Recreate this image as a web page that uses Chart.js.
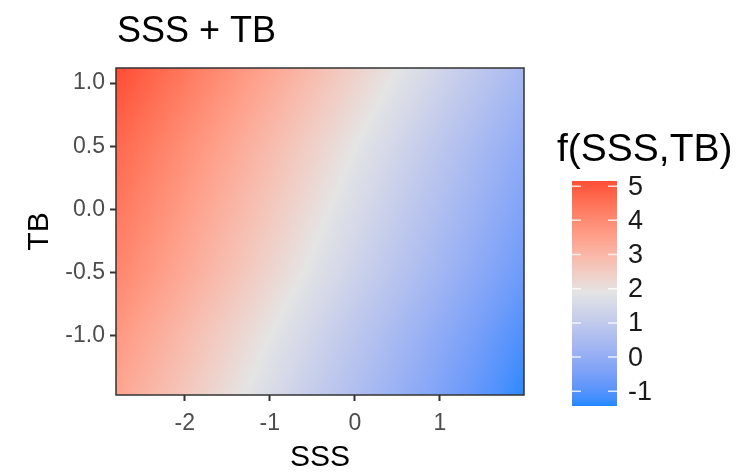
<!DOCTYPE html>
<html>
<head>
<meta charset="utf-8">
<script src="https://cdn.jsdelivr.net/npm/chart.js@4.4.1/dist/chart.umd.min.js"></script>
<style>
  html, body { margin: 0; padding: 0; background: #fff; }
  #wrap { width: 750px; height: 476px; }
</style>
</head>
<body>
<div id="wrap"><canvas id="c" width="750" height="476"></canvas></div>
<script>
// grid nodes (panel edges + tick positions)
const sssGrid = [-2.81, -2, -1, 0, 1, 1.99];
const tbGrid = [1.12, 0.5, 0, -0.5, -1, -1.47];
// f(SSS,TB), one row per TB value, one column per SSS value
const fRows = [
  [5.2, 4.4, 3.4, 2.4, 1.4, 0.4],
  [4.7, 3.9, 2.9, 1.9, 0.9, -0.1],
  [4.4, 3.6, 2.6, 1.6, 0.6, -0.4],
  [4.1, 3.3, 2.3, 1.3, 0.3, -0.7],
  [3.7, 2.9, 1.9, 0.9, -0.1, -1.1],
  [3.4, 2.6, 1.6, 0.6, -0.4, -1.4]
];
const sssTicks = [-2, -1, 0, 1];
const tbTicks = [-1, -0.5, 0, 0.5, 1];
const legendTicks = [5, 4, 3, 2, 1, 0, -1];
const fMin = -1.43, fMid = 1.9, fMax = 5.15;

const lowCol = [30, 136, 255], midCol = [228, 228, 228], highCol = [255, 72, 50];
const FONT = "'Liberation Sans', Arial, sans-serif";

// --- Lab interpolation, like scales::div_gradient_pal
function toLin(c) { c /= 255; return c <= 0.04045 ? c / 12.92 : Math.pow((c + 0.055) / 1.055, 2.4); }
function fromLin(c) { c = c <= 0.0031308 ? 12.92 * c : 1.055 * Math.pow(c, 1 / 2.4) - 0.055; return Math.max(0, Math.min(255, Math.round(c * 255))); }
function rgb2lab(rgb) {
  const r = toLin(rgb[0]), g = toLin(rgb[1]), b = toLin(rgb[2]);
  let x = (0.4124 * r + 0.3576 * g + 0.1805 * b) / 0.95047;
  let y = 0.2126 * r + 0.7152 * g + 0.0722 * b;
  let z = (0.0193 * r + 0.1192 * g + 0.9505 * b) / 1.08883;
  const f = t => t > 0.008856 ? Math.cbrt(t) : 7.787 * t + 16 / 116;
  x = f(x); y = f(y); z = f(z);
  return [116 * y - 16, 500 * (x - y), 200 * (y - z)];
}
function lab2rgb(lab) {
  const fy = (lab[0] + 16) / 116, fx = fy + lab[1] / 500, fz = fy - lab[2] / 200;
  const inv = t => t > 0.206893 ? t * t * t : (t - 16 / 116) / 7.787;
  const x = inv(fx) * 0.95047, y = inv(fy), z = inv(fz) * 1.08883;
  const r = 3.2406 * x - 1.5372 * y - 0.4986 * z;
  const g = -0.9689 * x + 1.8758 * y + 0.0415 * z;
  const b = 0.0557 * x - 0.2040 * y + 1.0570 * z;
  return [fromLin(r), fromLin(g), fromLin(b)];
}
const labLow = rgb2lab(lowCol), labMid = rgb2lab(midCol), labHigh = rgb2lab(highCol);
const half = Math.max(fMax - fMid, fMid - fMin);
function colorFor(v) {
  let t = (v - fMid) / half;
  t = Math.max(-1, Math.min(1, t));
  const a = labMid, b = t < 0 ? labLow : labHigh, k = Math.abs(t);
  return lab2rgb([a[0] + (b[0] - a[0]) * k, a[1] + (b[1] - a[1]) * k, a[2] + (b[2] - a[2]) * k]);
}

// bilinear lookup in the grid
function seg(arr, v) {
  const asc = arr[arr.length - 1] > arr[0];
  for (let i = 0; i < arr.length - 1; i++) {
    const hi = arr[i + 1];
    if ((asc && v <= hi) || (!asc && v >= hi) || i === arr.length - 2) {
      return [i, Math.max(0, Math.min(1, (v - arr[i]) / (hi - arr[i])))];
    }
  }
}
function fAt(s, t) {
  const [i, u] = seg(sssGrid, s), [j, w] = seg(tbGrid, t);
  const a = fRows[j][i], b = fRows[j][i + 1], c = fRows[j + 1][i], d = fRows[j + 1][i + 1];
  return (a * (1 - u) + b * u) * (1 - w) + (c * (1 - u) + d * u) * w;
}

const points = [];
tbGrid.forEach((t, j) => sssGrid.forEach((s, i) => points.push({ x: s, y: t, v: fRows[j][i] })));

const heatmap = {
  id: "heatmap",
  beforeDatasetsDraw(chart) {
    const { ctx, chartArea: a, scales } = chart;
    const w = Math.round(a.right - a.left), h = Math.round(a.bottom - a.top);
    const img = ctx.createImageData(w, h);
    for (let py = 0; py < h; py++) {
      const t = scales.y.getValueForPixel(a.top + py + 0.5);
      for (let px = 0; px < w; px++) {
        const s = scales.x.getValueForPixel(a.left + px + 0.5);
        const c = colorFor(fAt(s, t));
        const k = (py * w + px) * 4;
        img.data[k] = c[0]; img.data[k + 1] = c[1]; img.data[k + 2] = c[2]; img.data[k + 3] = 255;
      }
    }
    ctx.putImageData(img, Math.round(a.left), Math.round(a.top));
  },
  afterDraw(chart) {
    const { ctx, chartArea: a } = chart;
    ctx.save();
    // panel border
    ctx.strokeStyle = "#333333";
    ctx.lineWidth = 1.5;
    ctx.strokeRect(a.left, a.top, a.right - a.left, a.bottom - a.top);

    // plot title
    ctx.fillStyle = "#000";
    ctx.font = "36px " + FONT;
    ctx.textBaseline = "middle";
    ctx.textAlign = "left";
    ctx.fillText("SSS + TB", 117, 32);

    // colour bar
    const bx = 572, bw = 45, bTop = 181, bBot = 406;
    const pxPer = (bBot - bTop) / (fMax - fMin);
    const yOf = v => bTop + (fMax - v) * pxPer;
    for (let y = bTop; y < bBot; y++) {
      const c = colorFor(fMax - (y + 0.5 - bTop) / pxPer);
      ctx.fillStyle = "rgb(" + c.join(",") + ")";
      ctx.fillRect(bx, y, bw, 1);
    }
    ctx.strokeStyle = "rgba(255,255,255,0.8)";
    ctx.lineWidth = 1.5;
    ctx.font = "27px " + FONT;
    ctx.fillStyle = "#1a1a1a";
    legendTicks.forEach(v => {
      const y = yOf(v);
      ctx.beginPath();
      ctx.moveTo(bx, y); ctx.lineTo(bx + 9, y);
      ctx.moveTo(bx + bw - 9, y); ctx.lineTo(bx + bw, y);
      ctx.stroke();
      ctx.fillText(String(v), 628, y + 1);
    });
    ctx.font = "39px " + FONT;
    ctx.fillStyle = "#000";
    ctx.fillText("f(SSS,TB)", 557, 150);
    ctx.restore();
  }
};

new Chart(document.getElementById("c"), {
  type: "scatter",
  data: {
    datasets: [{ label: "f", data: points, pointRadius: 0, pointHoverRadius: 0 }]
  },
  options: {
    responsive: false,
    animation: false,
    events: [],
    layout: { padding: { top: 68, right: 226, left: 0, bottom: 0 } },
    plugins: { legend: { display: false }, tooltip: { enabled: false } },
    scales: {
      x: {
        type: "linear",
        min: -2.81,
        max: 1.99,
        afterFit(scale) { scale.height = 81; },
        afterBuildTicks(scale) { scale.ticks = sssTicks.map(v => ({ value: v })); },
        ticks: {
          color: "#4d4d4d",
          font: { family: FONT, size: 23 },
          padding: 9,
          callback: v => String(v)
        },
        grid: { drawOnChartArea: false, tickLength: 6, tickColor: "#333333", tickWidth: 2 },
        border: { display: false },
        title: { display: true, text: "SSS", color: "#000", font: { family: FONT, size: 30 }, padding: { top: 0, bottom: 0 } }
      },
      y: {
        type: "linear",
        min: -1.47,
        max: 1.12,
        afterFit(scale) { scale.width = 116; },
        afterBuildTicks(scale) { scale.ticks = tbTicks.map(v => ({ value: v })); },
        ticks: {
          color: "#4d4d4d",
          font: { family: FONT, size: 23 },
          padding: 5,
          callback: v => v.toFixed(1)
        },
        grid: { drawOnChartArea: false, tickLength: 6, tickColor: "#333333", tickWidth: 2 },
        border: { display: false },
        title: { display: true, text: "TB", color: "#000", font: { family: FONT, size: 30 }, padding: { top: 22, bottom: 0 } }
      }
    }
  },
  plugins: [heatmap]
});
</script>
</body>
</html>
